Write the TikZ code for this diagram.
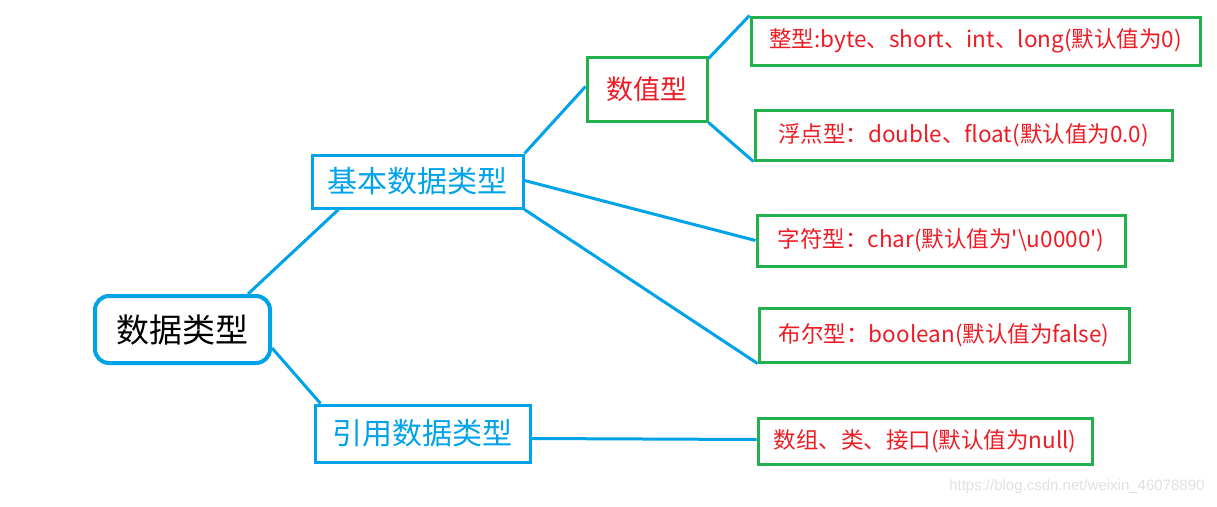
\documentclass[tikz,border=0pt]{standalone}
\usepackage{fontspec}
\setmainfont{Noto Sans CJK SC}[Ligatures=TeXOff]
\newfontfamily\wmfont{Liberation Sans}
\usetikzlibrary{calc}
\definecolor{cy}{RGB}{0,162,232}
\definecolor{gr}{RGB}{34,177,76}
\definecolor{rd}{RGB}{237,28,36}
\tikzset{
  x=1pt,y=-1pt,
  rootbox/.style={draw=cy,line width=4pt,rounded corners=14pt,inner sep=0pt,text=black,font=\fontsize{33}{37}\selectfont},
  catbox/.style={draw=cy,line width=3pt,inner sep=0pt,text=cy,font=\fontsize{30}{34}\selectfont},
  numbox/.style={draw=gr,line width=3pt,inner sep=0pt,text=rd,font=\fontsize{27}{32}\selectfont},
  leafbox/.style={draw=gr,line width=3pt,inner sep=0pt,text=rd,font=\fontsize{22.5}{26}\selectfont},
  link/.style={draw=cy,line width=3pt},
}
\begin{document}
\begin{tikzpicture}
\useasboundingbox (0,0) rectangle (1217,506);
\node[rootbox,minimum width=175pt,minimum height=67pt] (root) at (182.5,329.5) {数据类型};
\node[catbox,minimum width=211pt,minimum height=53pt] (basic) at (417.5,181.5) {基本数据类型};
\node[catbox,minimum width=215pt,minimum height=57pt] (ref) at (422.5,433.5) {引用数据类型};
\node[numbox,minimum width=120pt,minimum height=64pt] (num) at (647,89) {数值型};
\node[leafbox,minimum width=449pt,minimum height=48pt] (int) at (975.5,41) {整型:byte、short、int、long(默认值为0)};
\node[leafbox,minimum width=417pt,minimum height=50pt] (flt) at (963.5,135) {浮点型：double、float(默认值为0.0)};
\node[leafbox,minimum width=368pt,minimum height=51pt] (chr) at (941,240.5) {字符型：char(默认值为'\textbackslash u0000')};
\node[leafbox,minimum width=370pt,minimum height=54pt] (bool) at (944,335) {布尔型：boolean(默认值为false)};
\node[leafbox,minimum width=334pt,minimum height=46pt] (arr) at (925,441) {数组、类、接口(默认值为null)};
\node[text=black!12,font=\wmfont\fontsize{15}{18}\selectfont,anchor=east] (wm) at (1208,487) {https://blog.csdn.net/weixin\_46078890};

\draw[link] ($(root.north west)+(155,0)$) -- ($(basic.south west)+(28,0)$);
\draw[link] ($(root.north east)+(0,54)$) -- ($(ref.north west)+(7,0)$);
\draw[link] (basic.north east) -- ($(num.north west)+(0,31)$);
\draw[link] ($(num.north east)+(0,3)$) -- (int.north west);
\draw[link] (num.south east) -- (flt.south west);
\draw[link] ($(basic.north east)+(0,27)$) -- ($(chr.north west)+(0,27)$);
\draw[link] (basic.south east) -- (bool.south west);
\draw[link] ($(ref.north east)+(0,35)$) -- ($(arr.north west)+(0,23)$);
\end{tikzpicture}
\end{document}
